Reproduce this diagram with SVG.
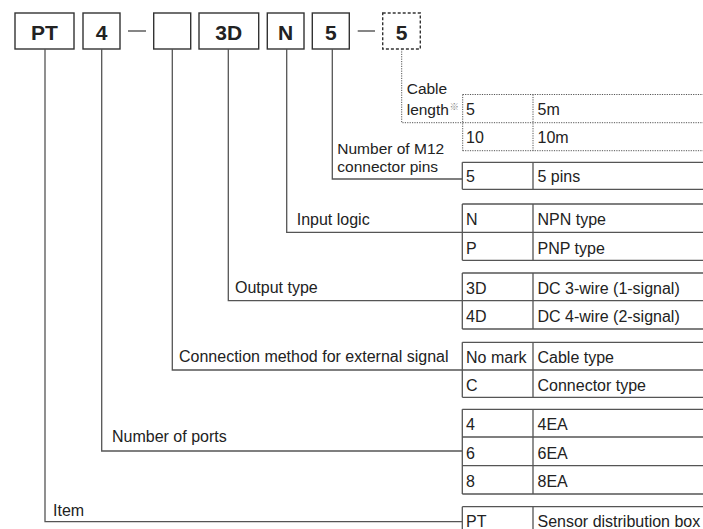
<svg xmlns="http://www.w3.org/2000/svg" width="703" height="529" viewBox="0 0 703 529">
<style>
  .box{fill:#fff;stroke:#333;stroke-width:1.4}
  .dbox{fill:#fff;stroke:#333;stroke-width:1.4;stroke-dasharray:3 2}
  .code{font-family:"Liberation Sans",Arial,Helvetica,sans-serif;font-weight:bold;font-size:21px;fill:#222;text-anchor:middle}
  .t{font-family:"Liberation Sans",Arial,Helvetica,sans-serif;font-size:16px;fill:#222}
  .s{font-family:"Liberation Sans",Arial,Helvetica,sans-serif;font-size:15.5px;fill:#222}
  .c{fill:none;stroke:#555;stroke-width:1.3}
  .d{fill:none;stroke:#555;stroke-width:1;stroke-dasharray:1.2 1.2}
  .tl{fill:none;stroke:#555;stroke-width:1.3}
  .dash{stroke:#444;stroke-width:1.3}
</style>
<rect width="703" height="529" fill="#fff"/>

<!-- code boxes -->
<g id="code-PT"><rect class="box" x="15" y="13" width="59" height="36"/><text class="code" x="44.5" y="39.5">PT</text></g>
<g id="code-4"><rect class="box" x="83" y="13" width="37" height="36"/><text class="code" x="101.5" y="39.5">4</text></g>
<line class="dash" x1="128" y1="31" x2="146" y2="31"/>
<g id="code-conn"><rect class="box" x="153.7" y="13" width="37" height="36"/></g>
<g id="code-3D"><rect class="box" x="199" y="13" width="59.7" height="36"/><text class="code" x="228.8" y="39.5">3D</text></g>
<g id="code-N"><rect class="box" x="267.3" y="13" width="36.7" height="36"/><text class="code" x="285.7" y="39.5">N</text></g>
<g id="code-5"><rect class="box" x="312.3" y="13" width="37" height="36"/><text class="code" x="330.8" y="39.5">5</text></g>
<line class="dash" x1="357.7" y1="31" x2="375" y2="31"/>
<g id="code-cable"><rect class="dbox" x="382.7" y="13" width="37.6" height="36"/><text class="code" x="401.5" y="39.5">5</text></g>

<!-- connectors -->
<g id="connectors">
  <path class="c" d="M45 49 V521.7 H462.3"/>
  <path class="c" d="M101.7 49 V451 H462.3"/>
  <path class="c" d="M172.3 49 V370 H462.3"/>
  <path class="c" d="M228.3 49 V300.7 H462.3"/>
  <path class="c" d="M286.7 49 V232.3 H462.3"/>
  <path class="c" d="M332.3 49 V179 H462.3"/>
  <path class="d" d="M401.7 49 V122.7 H462.7"/>
</g>

<!-- labels -->
<g id="label-cable">
  <text class="s" x="406.7" y="93.5">Cable</text>
  <text class="s" x="406.7" y="114.5">length</text>
  <text x="449.5" y="109.5" font-family="'Noto Sans CJK JP',sans-serif" font-size="9.5" fill="#8a8a8a">※</text>
</g>
<g id="label-pins">
  <text class="s" x="337.3" y="154">Number of M12</text>
  <text class="s" x="337.3" y="171.5">connector pins</text>
</g>
<g id="label-logic"><text class="t" x="296.7" y="225">Input logic</text></g>
<g id="label-output"><text class="t" x="235" y="293">Output type</text></g>
<g id="label-connection"><text class="t" x="179" y="361.7">Connection method for external signal</text></g>
<g id="label-ports"><text class="t" x="112" y="441.7">Number of ports</text></g>
<g id="label-item"><text class="t" x="53" y="516">Item</text></g>

<!-- tables -->
<g id="table-cable">
  <path class="d" d="M462.7 94.5 H703 M462.7 122.7 H703 M462.7 150.7 H703 M462.7 94.5 V150.7 M533 94.5 V150.7"/>
  <text class="t" x="466" y="115">5</text><text class="t" x="537.5" y="115">5m</text>
  <text class="t" x="466" y="143">10</text><text class="t" x="537.5" y="143">10m</text>
</g>
<g id="table-pins">
  <path class="tl" d="M462.3 162.3 H703 M462.3 189.3 H703 M462.3 162.3 V189.3 M533 162.3 V189.3"/>
  <text class="t" x="466" y="182">5</text><text class="t" x="537.5" y="182">5 pins</text>
</g>
<g id="table-logic">
  <path class="tl" d="M462.3 204 H703 M462.3 232.3 H703 M462.3 260.3 H703 M462.3 204 V260.3 M533 204 V260.3"/>
  <text class="t" x="466" y="225">N</text><text class="t" x="537.5" y="225">NPN type</text>
  <text class="t" x="466" y="253.5">P</text><text class="t" x="537.5" y="253.5">PNP type</text>
</g>
<g id="table-output">
  <path class="tl" d="M462.3 273 H703 M462.3 300.7 H703 M462.3 329 H703 M462.3 273 V329 M533 273 V329"/>
  <text class="t" x="466" y="294">3D</text><text class="t" x="537.5" y="294">DC 3-wire (1-signal)</text>
  <text class="t" x="466" y="322">4D</text><text class="t" x="537.5" y="322">DC 4-wire (2-signal)</text>
</g>
<g id="table-connection">
  <path class="tl" d="M462.3 342.3 H703 M462.3 370 H703 M462.3 397.3 H703 M462.3 342.3 V397.3 M533 342.3 V397.3"/>
  <text class="t" x="466" y="363">No mark</text><text class="t" x="537.5" y="363">Cable type</text>
  <text class="t" x="466" y="390.5">C</text><text class="t" x="537.5" y="390.5">Connector type</text>
</g>
<g id="table-ports">
  <path class="tl" d="M462.3 409.3 H703 M462.3 437 H703 M462.3 465.7 H703 M462.3 494 H703 M462.3 409.3 V494 M533 409.3 V494"/>
  <text class="t" x="466" y="430">4</text><text class="t" x="537.5" y="430">4EA</text>
  <text class="t" x="466" y="458.5">6</text><text class="t" x="537.5" y="458.5">6EA</text>
  <text class="t" x="466" y="487">8</text><text class="t" x="537.5" y="487">8EA</text>
</g>
<g id="table-item">
  <path class="tl" d="M462.3 506.7 H703 M462.3 506.7 V535 M533 506.7 V535"/>
  <text class="t" x="466" y="527">PT</text><text class="t" x="537.5" y="527">Sensor distribution box</text>
</g>
</svg>
